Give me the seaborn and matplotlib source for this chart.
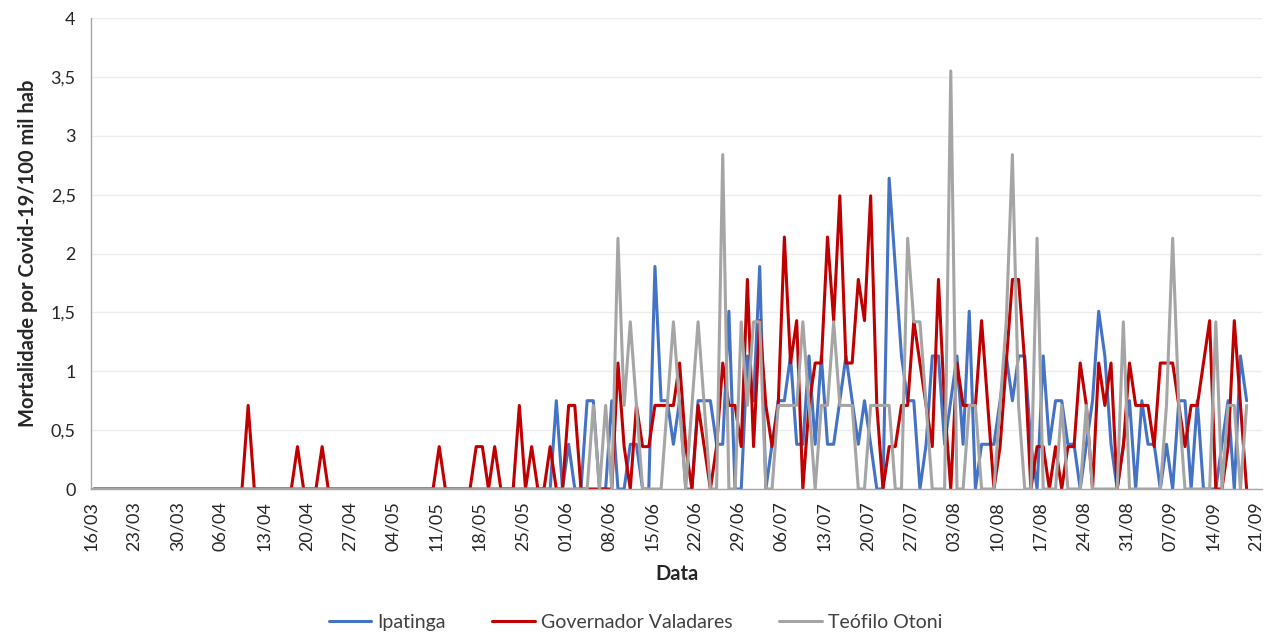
import pandas as pd
import matplotlib
matplotlib.use('Agg')
import matplotlib.pyplot as plt
import matplotlib.dates as mdates
from matplotlib.ticker import FuncFormatter, MultipleLocator, FixedLocator
import seaborn as sns

# Daily Covid-19 mortality per 100 thousand inhabitants, one line per week from 16/03/2020
ipatinga = [
    0, 0, 0, 0, 0, 0, 0,
    0, 0, 0, 0, 0, 0, 0,
    0, 0, 0, 0, 0, 0, 0,
    0, 0, 0, 0, 0, 0, 0,
    0, 0, 0, 0, 0, 0, 0,
    0, 0, 0, 0, 0, 0, 0,
    0, 0, 0, 0, 0, 0, 0,
    0, 0, 0, 0, 0, 0, 0,
    0, 0, 0, 0, 0, 0, 0,
    0, 0, 0, 0, 0, 0, 0,
    0, 0, 0, 0, 0, 0.75, 0,
    0.38, 0, 0, 0.75, 0.75, 0, 0,
    0.75, 0, 0, 0.38, 0.38, 0, 0,
    1.89, 0.75, 0.75, 0.38, 0.75, 0, 0,
    0.75, 0.75, 0.75, 0.38, 0.38, 1.51, 0,
    0, 1.13, 0.75, 1.89, 0, 0.38, 0.75,
    0.75, 1.13, 0.38, 0.38, 1.13, 0.38, 1.13,
    0.38, 0.38, 0.75, 1.13, 0.75, 0.38, 0.75,
    0.38, 0, 0, 2.64, 1.89, 1.13, 0.75,
    0.75, 0, 0.38, 1.13, 1.13, 0.38, 0.75,
    1.13, 0.38, 1.51, 0, 0.38, 0.38, 0.38,
    0.75, 1.13, 0.75, 1.13, 1.13, 0.38, 0,
    1.13, 0.38, 0.75, 0.75, 0.38, 0.38, 0,
    0.38, 0.75, 1.51, 1.13, 0.38, 0, 0.38,
    0.75, 0, 0.75, 0.38, 0.38, 0, 0.38,
    0, 0.75, 0.75, 0, 0.75, 0, 0,
    0, 0.38, 0.75, 0, 1.13, 0.75,
]

valadares = [
    0, 0, 0, 0, 0, 0, 0,
    0, 0, 0, 0, 0, 0, 0,
    0, 0, 0, 0, 0, 0, 0,
    0, 0, 0, 0, 0.71, 0, 0,
    0, 0, 0, 0, 0, 0.36, 0,
    0, 0, 0.36, 0, 0, 0, 0,
    0, 0, 0, 0, 0, 0, 0,
    0, 0, 0, 0, 0, 0, 0,
    0.36, 0, 0, 0, 0, 0, 0.36,
    0.36, 0, 0.36, 0, 0, 0, 0.71,
    0, 0.36, 0, 0, 0.36, 0, 0,
    0.71, 0.71, 0, 0, 0, 0, 0,
    0, 1.07, 0.36, 0, 0.71, 0.36, 0.36,
    0.71, 0.71, 0.71, 0.71, 1.07, 0.36, 0,
    0.71, 0.36, 0, 0.36, 1.07, 0.71, 0.71,
    0.36, 1.78, 0.36, 1.43, 0.71, 0.36, 0.71,
    2.14, 1.07, 1.43, 0, 0.71, 1.07, 1.07,
    2.14, 1.43, 2.49, 1.07, 1.07, 1.78, 1.43,
    2.49, 0.71, 0, 0.36, 0.36, 0.71, 0.71,
    1.43, 1.07, 0.71, 0.36, 1.78, 0.71, 0,
    1.07, 0.71, 0.71, 0.71, 1.43, 0.71, 0,
    0.36, 1.07, 1.78, 1.78, 1.07, 0, 0.36,
    0.36, 0, 0.36, 0, 0.36, 0.36, 1.07,
    0.71, 0, 1.07, 0.71, 1.07, 0, 0.36,
    1.07, 0.71, 0.71, 0.71, 0.36, 1.07, 1.07,
    1.07, 0.71, 0.36, 0.71, 0.71, 1.07, 1.43,
    0, 0, 0.36, 1.43, 0.71, 0,
]

teofilo = [
    0, 0, 0, 0, 0, 0, 0,
    0, 0, 0, 0, 0, 0, 0,
    0, 0, 0, 0, 0, 0, 0,
    0, 0, 0, 0, 0, 0, 0,
    0, 0, 0, 0, 0, 0, 0,
    0, 0, 0, 0, 0, 0, 0,
    0, 0, 0, 0, 0, 0, 0,
    0, 0, 0, 0, 0, 0, 0,
    0, 0, 0, 0, 0, 0, 0,
    0, 0, 0, 0, 0, 0, 0,
    0, 0, 0, 0, 0, 0, 0,
    0, 0, 0, 0, 0.71, 0, 0.71,
    0, 2.13, 0.71, 1.42, 0.71, 0, 0,
    0, 0, 0.71, 1.42, 0.71, 0, 0.71,
    1.42, 0.71, 0, 0, 2.84, 0, 0,
    1.42, 0.71, 1.42, 1.42, 0, 0, 0.71,
    0.71, 0.71, 0.71, 1.42, 0.71, 0, 0.71,
    0.71, 1.42, 0.71, 0.71, 0.71, 0, 0,
    0.71, 0.71, 0.71, 0.71, 0, 0, 2.13,
    1.42, 1.42, 0.71, 0, 0, 0, 3.55,
    0, 0, 0.71, 0.71, 0, 0, 0,
    0.71, 1.42, 2.84, 0.71, 0, 0, 2.13,
    0, 0, 0, 0.71, 0, 0, 0,
    0.71, 0, 0, 0, 0, 0, 1.42,
    0, 0, 0, 0, 0, 0, 0.71,
    2.13, 0.71, 0, 0, 0, 0, 0,
    1.42, 0, 0.71, 0.71, 0, 0.71,
]

cities = ['Ipatinga', 'Governador Valadares', 'Teófilo Otoni']
colors = ['#4472C4', '#C00000', '#A5A5A5']

dates = pd.date_range('2020-03-16 12:00', periods=len(ipatinga), freq='D')
df = pd.DataFrame({'Data': dates, cities[0]: ipatinga,
                   cities[1]: valadares, cities[2]: teofilo})
df = df.melt(id_vars='Data', var_name='Cidade', value_name='Mortalidade')

sns.set_theme(style='white')
plt.rcParams['font.family'] = ['Lato', 'DejaVu Sans']

fig = plt.figure(figsize=(12.69, 6.35), dpi=100)
ax = fig.add_axes([0.0717, 0.2299, 0.9228, 0.7417])

sns.lineplot(data=df, x='Data', y='Mortalidade', hue='Cidade', hue_order=cities,
             palette=colors, linewidth=2.2, ax=ax)

ax.set_ylim(0, 4)
ax.yaxis.set_major_locator(MultipleLocator(0.5))
ax.yaxis.set_major_formatter(FuncFormatter(lambda v, p: f'{v:g}'.replace('.', ',')))
ax.yaxis.grid(True, color='#EDEDED', linewidth=1)
ax.set_axisbelow(True)

ticks = pd.date_range('2020-03-16', '2020-09-21', freq='7D')
ax.set_xlim(pd.Timestamp('2020-03-16'), pd.Timestamp('2020-09-22'))
ax.xaxis.set_major_locator(FixedLocator(mdates.date2num(ticks)))
ax.xaxis.set_major_formatter(mdates.DateFormatter('%d/%m'))
plt.setp(ax.get_xticklabels(), rotation=90)

ax.tick_params(axis='x', direction='out', length=4, width=1, color='#A6A6A6',
               labelsize=13, labelcolor='#262626', pad=5)
ax.tick_params(axis='y', length=0, labelsize=13, labelcolor='#262626', pad=11)

for s in ['top', 'right']:
    ax.spines[s].set_visible(False)
for s in ['left', 'bottom']:
    ax.spines[s].set_color('#A6A6A6')
    ax.spines[s].set_linewidth(1)

ax.set_xlabel('Data', fontsize=14.5, fontweight='bold', color='#262626', labelpad=9)
ax.set_ylabel('Mortalidade por Covid-19/100 mil hab', fontsize=14.5, fontweight='bold',
              color='#262626', labelpad=9)

ax.legend(loc='center', bbox_to_anchor=(0.465, -0.283), ncol=3, frameon=False,
          fontsize=14, handlelength=2.2, columnspacing=2.4, handletextpad=0.3)
for t in ax.get_legend().get_texts():
    t.set_color('#404040')

fig.savefig('out.png', dpi=100)
